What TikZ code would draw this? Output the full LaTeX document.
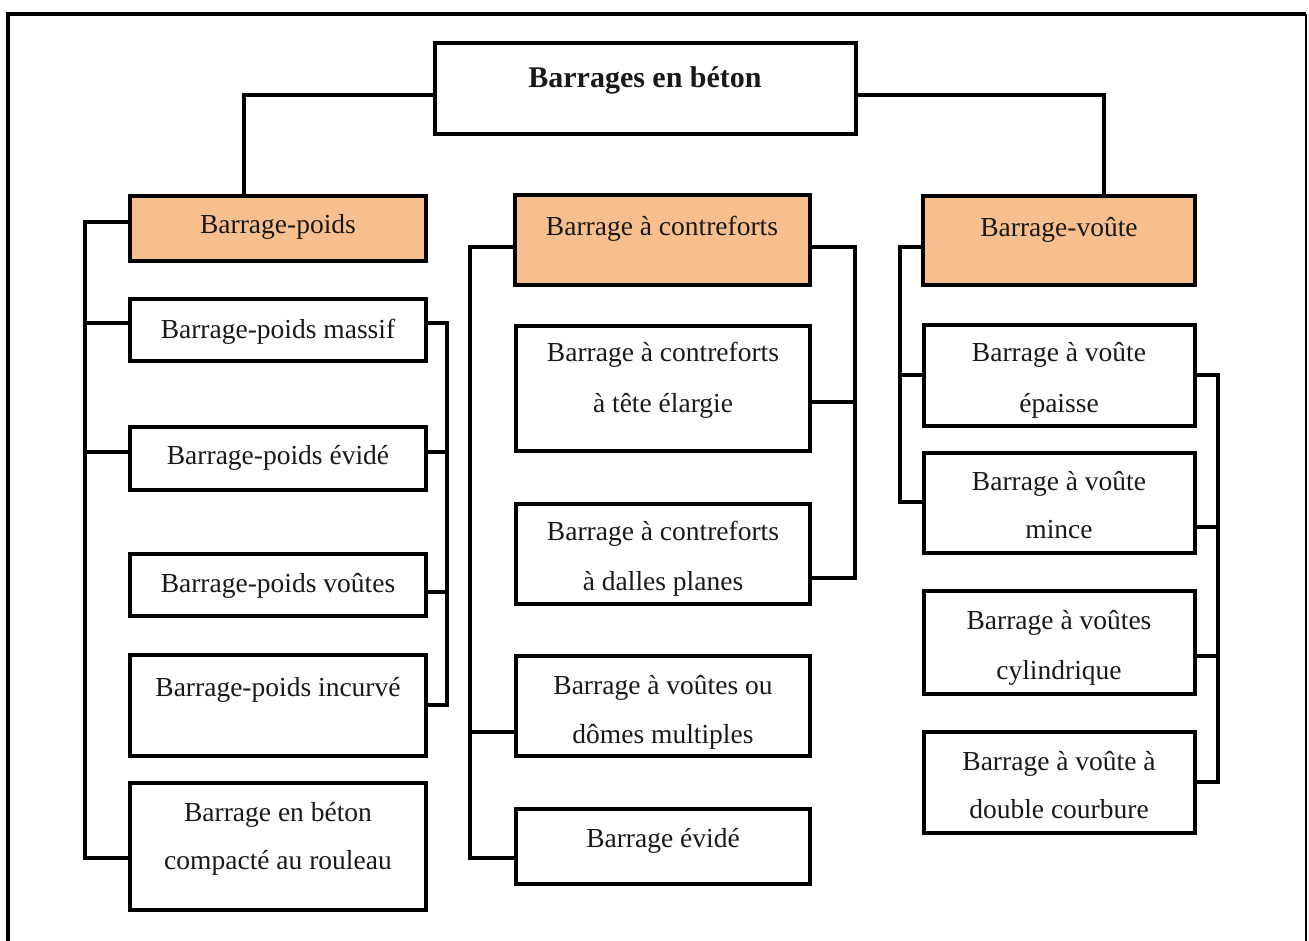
\documentclass[tikz,border=0pt]{standalone}
\usepackage{fontspec}
\setmainfont{Liberation Serif}
\definecolor{headfill}{RGB}{248,191,142}
\newcommand\mkbox[6]{%
  \pgfmathsetmacro\cxx{(#3+#5)/2}\pgfmathsetmacro\cyy{(#4+#6)/2}%
  \pgfmathsetmacro\ww{#5-#3}\pgfmathsetmacro\hh{#6-#4}%
  \node[#1, minimum width=\ww pt, minimum height=\hh pt] (#2) at (\cxx,\cyy) {};}
\tikzset{
  box/.style={draw=black, line width=4.5pt, fill=white, rectangle, inner sep=0pt},
  headbox/.style={box, fill=headfill},
  txt/.style={anchor=base, inner sep=0pt, font=\fontsize{27.5}{33}\selectfont, text=black!90},
  titletxt/.style={anchor=base, inner sep=0pt, font=\fontsize{30}{36}\selectfont\bfseries, text=black!90},
  conn/.style={draw=black, line width=4pt},
}
\begin{document}
\begin{tikzpicture}[x=1pt, y=-1pt]
\useasboundingbox (0,0) rectangle (1309,940);
% outer frame
\draw[line width=4pt] (8,950) -- (8,14) -- (1306,14);
\draw[line width=2pt] (1306,14) -- (1306,950);

% boxes
\mkbox{box}{top}{435}{43}{856}{134}
\mkbox{headbox}{bp}{130}{196}{426}{261}
\mkbox{headbox}{bc}{515}{195}{810}{285}
\mkbox{headbox}{bv}{923}{196}{1195}{285}

\mkbox{box}{p1}{130}{299}{426}{361}
\mkbox{box}{p2}{130}{427}{426}{490}
\mkbox{box}{p3}{130}{554}{426}{616}
\mkbox{box}{p4}{130}{655}{426}{756}
\mkbox{box}{p5}{130}{783}{426}{910}

\mkbox{box}{c1}{516}{326}{810}{451}
\mkbox{box}{c2}{516}{504}{810}{604}
\mkbox{box}{c3}{516}{656}{810}{756}
\mkbox{box}{c4}{516}{809}{810}{884}

\mkbox{box}{v1}{924}{325}{1195}{426}
\mkbox{box}{v2}{924}{453}{1195}{553}
\mkbox{box}{v3}{924}{591}{1195}{694}
\mkbox{box}{v4}{924}{732}{1195}{833}

% texts
\node[titletxt] (topt) at (645,87) {Barrages en béton};
\node[txt] (bpt) at (278,233) {Barrage-poids};
\node[txt] (bct) at (662,235) {Barrage à contreforts};
\node[txt] (bvt) at (1059,236) {Barrage-voûte};

\node[txt] (p1t) at (278,338) {Barrage-poids massif};
\node[txt] (p2t) at (278,464) {Barrage-poids évidé};
\node[txt] (p3t) at (278,592) {Barrage-poids voûtes};
\node[txt] (p4t) at (278,696) {Barrage-poids incurvé};
\node[txt] (p5a) at (278,821) {Barrage en béton};
\node[txt] (p5b) at (278,869) {compacté au rouleau};

\node[txt] (c1a) at (663,361) {Barrage à contreforts};
\node[txt] (c1b) at (663,412) {à tête élargie};
\node[txt] (c2a) at (663,540) {Barrage à contreforts};
\node[txt] (c2b) at (663,590) {à dalles planes};
\node[txt] (c3a) at (663,694) {Barrage à voûtes ou};
\node[txt] (c3b) at (663,743) {dômes multiples};
\node[txt] (c4t) at (663,847) {Barrage évidé};

\node[txt] (v1a) at (1059,361) {Barrage à voûte};
\node[txt] (v1b) at (1059,412) {épaisse};
\node[txt] (v2a) at (1059,490) {Barrage à voûte};
\node[txt] (v2b) at (1059,538) {mince};
\node[txt] (v3a) at (1059,629) {Barrage à voûtes};
\node[txt] (v3b) at (1059,679) {cylindrique};
\node[txt] (v4a) at (1059,770) {Barrage à voûte à};
\node[txt] (v4b) at (1059,818) {double courbure};

% connectors: top level
\draw[conn] (top.west |- 0,95) -- (244,95) -- (bp.north -| 244,0);
\draw[conn] (top.east |- 0,95) -- (1104,95) -- (bv.north -| 1104,0);

% Barrage-poids
\draw[conn] (bp.west |- 0,222) -- (85,222) -- (85,858) -- (p5.west |- 0,858);
\draw[conn] (85,323) -- (p1.west |- 0,323);
\draw[conn] (85,452) -- (p2.west |- 0,452);
\draw[conn] (p1.east |- 0,323) -- (447,323) -- (447,705) -- (p4.east |- 0,705);
\draw[conn] (p2.east |- 0,452) -- (447,452);
\draw[conn] (p3.east |- 0,592) -- (447,592);

% Barrage a contreforts
\draw[conn] (bc.west |- 0,247) -- (470,247) -- (470,858) -- (c4.west |- 0,858);
\draw[conn] (470,732) -- (c3.west |- 0,732);
\draw[conn] (bc.east |- 0,247) -- (855,247) -- (855,578) -- (c2.east |- 0,578);
\draw[conn] (c1.east |- 0,402) -- (855,402);

% Barrage-voute
\draw[conn] (bv.west |- 0,247) -- (900,247) -- (900,502) -- (v2.west |- 0,502);
\draw[conn] (900,375) -- (v1.west |- 0,375);
\draw[conn] (v1.east |- 0,375) -- (1218,375) -- (1218,782) -- (v4.east |- 0,782);
\draw[conn] (v2.east |- 0,527) -- (1218,527);
\draw[conn] (v3.east |- 0,656) -- (1218,656);
\end{tikzpicture}
\end{document}
